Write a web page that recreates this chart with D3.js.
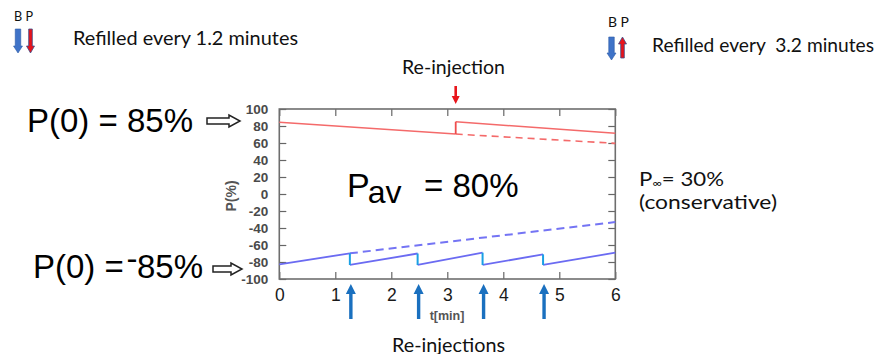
<!DOCTYPE html>
<html>
<head>
<meta charset="utf-8">
<script src="https://cdn.jsdelivr.net/npm/d3@7"></script>
<style>
  body { margin: 0; background: #fff; }
  svg { display: block; }
  .axis text { font-family: "Liberation Sans", Arial, sans-serif; }
  .note { font-family: Lato, "Open Sans", sans-serif; fill: #111; }
  .big { font-family: "Liberation Sans", Arial, sans-serif; fill: #000; }
</style>
</head>
<body>
<svg id="chart" width="882" height="354"></svg>
<script>
// tick values
var xTicks = [0, 1, 2, 3, 4, 5, 6];
var yTicks = [-100, -80, -60, -40, -20, 0, 20, 40, 60, 80, 100];

// proton polarisation (red), refilled once at t = 3.15 min
var redSegStart = [[0, 84.5], [3.15, 85]];
var redSegEnd = [[3.15, 70.5], [6, 71.4]];
var redDashed = [[3.15, 70.5], [6, 59.6]];
var redRefills = [3.15];

// beam polarisation (blue), refilled about every 1.2 min
var blueSegStart = [[0, -82.7], [1.26, -83.5], [2.47, -83.5], [3.63, -83.5], [4.71, -83.5]];
var blueSegEnd = [[1.26, -69.8], [2.47, -70], [3.63, -69], [4.71, -71], [6, -69]];
var blueDashed = [[1.26, -69.8], [6, -33]];
var blueRefills = [1.26, 2.47, 3.63, 4.71];

var svg = d3.select("#chart"),
    pLeft = 279.3, pRight = 615.3, pTop = 109, pBottom = 279;

var x = d3.scaleLinear().domain([0, 6]).range([pLeft, pRight]);
var y = d3.scaleLinear().domain([-100, 100]).range([pBottom, pTop]);

var line = d3.line()
    .x(function (d) { return x(d[0]); })
    .y(function (d) { return y(d[1]); });

// axes, gnuplot style ticks pointing inwards
var gl = svg.append("g").attr("class", "axis")
    .attr("transform", "translate(" + pLeft + ",0)")
    .call(d3.axisLeft(y).tickValues(yTicks).tickFormat(function (d) { return String(d); })
        .tickSizeInner(-7).tickSizeOuter(0).tickPadding(11));
gl.selectAll("text").attr("font-size", 13.5).attr("font-weight", "bold").attr("fill", "#4a4a4a");

var gb = svg.append("g").attr("class", "axis")
    .attr("transform", "translate(0," + pBottom + ")")
    .call(d3.axisBottom(x).tickValues(xTicks).tickFormat(function (d) { return String(d); })
        .tickSizeInner(-7).tickSizeOuter(0).tickPadding(10));
gb.selectAll("text").attr("font-size", 17.5).attr("fill", "#1a1a1a");

svg.append("g").attr("class", "axis")
    .attr("transform", "translate(" + pRight + ",0)")
    .call(d3.axisRight(y).tickValues(yTicks).tickSizeInner(-7).tickSizeOuter(0).tickFormat(""));
svg.append("g").attr("class", "axis")
    .attr("transform", "translate(0," + pTop + ")")
    .call(d3.axisTop(x).tickValues(xTicks).tickSizeInner(-7).tickSizeOuter(0).tickFormat(""));

svg.selectAll(".axis .domain").remove();
svg.selectAll(".axis line").attr("stroke", "#666").attr("stroke-width", 1.2);

svg.append("rect")
    .attr("x", pLeft).attr("y", pTop)
    .attr("width", pRight - pLeft).attr("height", pBottom - pTop)
    .attr("fill", "none").attr("stroke", "#6e6e6e").attr("stroke-width", 1.6);

// axis titles
svg.append("text")
    .attr("x", 447).attr("y", 320)
    .attr("text-anchor", "middle")
    .attr("font-family", "Liberation Sans, Arial, sans-serif")
    .attr("font-size", 12.5).attr("font-weight", "bold").attr("fill", "#555")
    .text("t[min]");
svg.append("text")
    .attr("transform", "translate(236,196) rotate(-90)")
    .attr("text-anchor", "middle")
    .attr("font-family", "Liberation Sans, Arial, sans-serif")
    .attr("font-size", 14).attr("font-weight", "bold").attr("fill", "#555")
    .text("P(%)");

// dashed "no refill" curves
svg.append("path").datum(redDashed)
    .attr("d", line).attr("fill", "none")
    .attr("stroke", "#f46a6a").attr("stroke-width", 1.6).attr("stroke-dasharray", "7,5");
svg.append("path").datum(blueDashed)
    .attr("d", line).attr("fill", "none")
    .attr("stroke", "#7474f4").attr("stroke-width", 2).attr("stroke-dasharray", "8,5");

// solid segments
redSegStart.forEach(function (s, i) {
    svg.append("path").datum([s, redSegEnd[i]])
        .attr("d", line).attr("fill", "none")
        .attr("stroke", "#f46a6a").attr("stroke-width", 1.6);
});
blueSegStart.forEach(function (s, i) {
    svg.append("path").datum([s, blueSegEnd[i]])
        .attr("d", line).attr("fill", "none")
        .attr("stroke", "#6b6bf2").attr("stroke-width", 1.8);
});

// jumps at refills
redRefills.forEach(function (t, i) {
    svg.append("path").datum([redSegEnd[i], redSegStart[i + 1]])
        .attr("d", line).attr("fill", "none")
        .attr("stroke", "#ee4d4d").attr("stroke-width", 1.8);
});
blueRefills.forEach(function (t, i) {
    svg.append("path").datum([blueSegEnd[i], blueSegStart[i + 1]])
        .attr("d", line).attr("fill", "none")
        .attr("stroke", "#1aa0e4").attr("stroke-width", 2);
});

// arrow helper: cx, tip y, tail y, shaft width, head width, head length
function arrow(cx, y0, y1, sw, hw, hl) {
    var dir = y1 > y0 ? 1 : -1;
    var yh = y0 + dir * hl;
    return "M" + cx + "," + y0 +
        "L" + (cx + hw / 2) + "," + yh +
        "L" + (cx + sw / 2) + "," + yh +
        "L" + (cx + sw / 2) + "," + y1 +
        "L" + (cx - sw / 2) + "," + y1 +
        "L" + (cx - sw / 2) + "," + yh +
        "L" + (cx - hw / 2) + "," + yh + "Z";
}

// re-injection arrows
svg.selectAll(".inj")
    .data(blueRefills)
    .enter().append("path")
    .attr("class", "inj")
    .attr("d", function (t) { return arrow(x(t) + 1, 284, 319, 3.4, 10, 10); })
    .attr("fill", "#1a70bf");
svg.selectAll(".injr")
    .data(redRefills)
    .enter().append("path")
    .attr("class", "injr")
    .attr("d", function (t) { return arrow(x(t), 104, 86, 2.6, 8, 8); })
    .attr("fill", "#e8161c");

// B P legends
svg.append("path").attr("d", arrow(18, 53, 29, 5.5, 9, 7)).attr("fill", "#3f73c8").attr("stroke", "#2c5aa6").attr("stroke-width", 0.6);
svg.append("path").attr("d", arrow(30.5, 53, 29, 3.6, 8, 7)).attr("fill", "#e8131b").attr("stroke", "#3a4f8a").attr("stroke-width", 0.8);
svg.append("path").attr("d", arrow(611.5, 60, 37, 5.5, 9, 7)).attr("fill", "#3f73c8").attr("stroke", "#2c5aa6").attr("stroke-width", 0.6);
svg.append("path").attr("d", arrow(622.5, 37, 58, 3.6, 8, 7)).attr("fill", "#e8131b").attr("stroke", "#3a4f8a").attr("stroke-width", 0.8);

function note(tx, ty, size, width, str, anchor) {
    return svg.append("text").attr("class", "note")
        .attr("x", tx).attr("y", ty).attr("font-size", size)
        .attr("text-anchor", anchor || "start")
        .attr("textLength", width).attr("lengthAdjust", "spacingAndGlyphs")
        .attr("xml:space", "preserve")
        .text(str);
}
note(14, 21, 12.5, 19, "B P");
note(608, 27, 12.5, 21, "B P");
note(73, 45, 18.5, 225, "Refilled every 1.2 minutes");
note(652, 52, 18.5, 222, "Refilled every  3.2 minutes");
note(453.5, 73.5, 18.5, 103, "Re-injection", "middle");
note(448.5, 351.5, 18.5, 113, "Re-injections", "middle");

var pinf = svg.append("text").attr("class", "note").attr("x", 639).attr("y", 186).attr("font-size", 19);
pinf.append("tspan").text("P");
pinf.append("tspan").attr("font-size", 11).attr("dy", 1).text("\u221e");
pinf.append("tspan").attr("dy", -1).text("= 30%");
pinf.attr("textLength", 85).attr("lengthAdjust", "spacingAndGlyphs");
note(639, 209, 19, 138, "(conservative)");

// big labels
svg.append("text").attr("class", "big").attr("x", 27).attr("y", 132.3).attr("font-size", 33).text("P(0) = 85%");
var neg = svg.append("text").attr("class", "big").attr("y", 278).attr("font-size", 33);
neg.append("tspan").attr("x", 33).text("P(0) =");
neg.append("tspan").attr("x", 126.5).attr("dy", -8).text("-");
neg.append("tspan").attr("x", 137).attr("dy", 8).text("85%");

var pav = svg.append("text").attr("class", "big").attr("x", 347).attr("y", 197).attr("font-size", 34);
pav.append("tspan").text("P");
pav.append("tspan").attr("dx", -2).attr("dy", 5.5).attr("font-size", 32).text("av");
svg.append("text").attr("class", "big").attr("x", 424).attr("y", 197).attr("font-size", 33).text("= 80%");

// hollow pointer arrows
function hollow(x0, x1, cy) {
    var xh = x1 - 11;
    return "M" + x0 + "," + (cy - 3) + "L" + xh + "," + (cy - 3) + "L" + xh + "," + (cy - 6) +
        "L" + x1 + "," + cy + "L" + xh + "," + (cy + 6) + "L" + xh + "," + (cy + 3) +
        "L" + x0 + "," + (cy + 3) + "Z";
}
svg.append("path").attr("d", hollow(207, 240, 121)).attr("fill", "#fff").attr("stroke", "#222").attr("stroke-width", 1.5);
svg.append("path").attr("d", hollow(213, 242, 269)).attr("fill", "#fff").attr("stroke", "#222").attr("stroke-width", 1.5);
</script>
</body>
</html>
